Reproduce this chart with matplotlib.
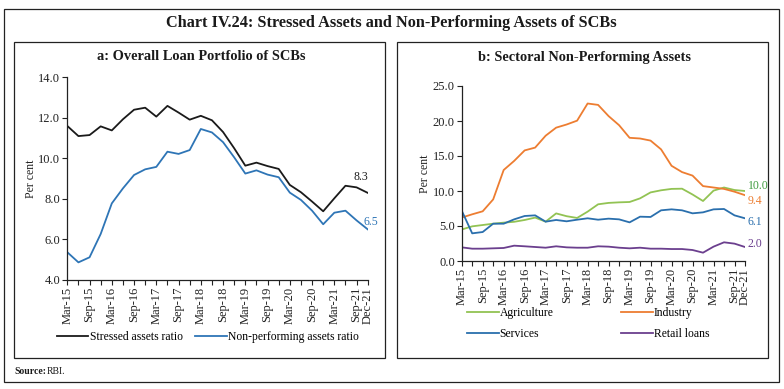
import matplotlib
matplotlib.use("Agg")
import matplotlib.pyplot as plt
from matplotlib.patches import Rectangle

quarters = ["Mar-15", "Jun-15", "Sep-15", "Dec-15", "Mar-16", "Jun-16", "Sep-16", "Dec-16",
            "Mar-17", "Jun-17", "Sep-17", "Dec-17", "Mar-18", "Jun-18", "Sep-18", "Dec-18",
            "Mar-19", "Jun-19", "Sep-19", "Dec-19", "Mar-20", "Jun-20", "Sep-20", "Dec-20",
            "Mar-21", "Jun-21", "Sep-21", "Dec-21"]
shown_labels = ["Mar-15", "Sep-15", "Mar-16", "Sep-16", "Mar-17", "Sep-17", "Mar-18", "Sep-18",
                "Mar-19", "Sep-19", "Mar-20", "Sep-20", "Mar-21", "Sep-21", "Dec-21"]

stressed = [11.6, 11.1, 11.15, 11.58, 11.38, 11.93, 12.4, 12.5, 12.06, 12.59, 12.26, 11.91,
            12.1, 11.88, 11.3, 10.5, 9.64, 9.79, 9.62, 9.48, 8.69, 8.33, 7.87, 7.39,
            8.03, 8.65, 8.57, 8.3]
npa = [5.37, 4.87, 5.12, 6.27, 7.78, 8.52, 9.18, 9.46, 9.58, 10.33, 10.22, 10.41,
       11.45, 11.28, 10.8, 10.05, 9.25, 9.41, 9.2, 9.07, 8.31, 7.95, 7.42, 6.75,
       7.32, 7.42, 6.94, 6.5]

agriculture = [4.5, 4.95, 5.14, 5.33, 5.48, 5.6, 5.86, 6.2, 5.62, 6.8, 6.4, 6.15,
               7.05, 8.1, 8.3, 8.38, 8.43, 8.95, 9.8, 10.1, 10.3, 10.33, 9.5, 8.57,
               10.05, 10.5, 10.14, 10.0]
industry = [6.2, 6.67, 7.1, 8.8, 13.0, 14.3, 15.8, 16.2, 17.9, 19.05, 19.5, 20.05,
            22.5, 22.3, 20.7, 19.4, 17.6, 17.5, 17.2, 15.95, 13.6, 12.7, 12.2, 10.7,
            10.5, 10.3, 9.9, 9.4]
services = [7.2, 3.95, 4.14, 5.33, 5.33, 5.95, 6.43, 6.52, 5.62, 5.86, 5.67, 5.9,
            6.1, 5.9, 6.05, 5.95, 5.52, 6.33, 6.29, 7.24, 7.38, 7.24, 6.81, 6.95,
            7.38, 7.43, 6.52, 6.1]
retail = [1.95, 1.76, 1.76, 1.81, 1.86, 2.19, 2.1, 2.0, 1.9, 2.1, 1.95, 1.9,
          1.9, 2.1, 2.05, 1.9, 1.81, 1.9, 1.76, 1.76, 1.71, 1.71, 1.57, 1.19,
          2.05, 2.67, 2.48, 2.0]

W, H = 784, 389
plt.rcParams['font.family'] = ['Liberation Serif', 'DejaVu Serif']
fig = plt.figure(figsize=(W / 100, H / 100), dpi=100)

def rect(x0, y0, x1, y1):
    return [x0 / W, 1 - y1 / H, (x1 - x0) / W, (y1 - y0) / H]

def frame(x0, y0, x1, y1, lw=0.9):
    fig.patches.append(Rectangle((x0 / W, 1 - y1 / H), (x1 - x0) / W, (y1 - y0) / H,
                                 transform=fig.transFigure, fill=False,
                                 edgecolor='#222222', linewidth=lw))

frame(4, 9, 779, 382)
frame(14, 42, 385, 358)
frame(397, 42, 768, 358)

fig.text(391 / W, 1 - 23 / H, "Chart IV.24: Stressed Assets and Non-Performing Assets of SCBs",
         ha='center', va='center', fontsize=11.7, fontweight='bold', color='#1a1a1a')
fig.text(201 / W, 1 - 57 / H, "a: Overall Loan Portfolio of SCBs",
         ha='center', va='center', fontsize=10.4, fontweight='bold', color='#1a1a1a')
fig.text(584 / W, 1 - 57 / H, "b: Sectoral Non-Performing Assets",
         ha='center', va='center', fontsize=10.4, fontweight='bold', color='#1a1a1a')
fig.text(14 / W, 1 - 372 / H, "Source:", ha='left', va='center', fontsize=7,
         fontweight='bold', color='#1a1a1a')
fig.text(47 / W, 1 - 372 / H, "RBI.", ha='left', va='center', fontsize=7, color='#1a1a1a')

x = list(range(len(quarters)))
labels = [q if q in shown_labels else "" for q in quarters]

def style(ax, ylim, yticks):
    ax.set_xlim(0, len(quarters) - 1)
    ax.set_ylim(*ylim)
    ax.set_yticks(yticks)
    ax.set_yticklabels([f"{v:.1f}" for v in yticks])
    ax.set_xticks(x)
    ax.set_xticklabels(labels, rotation=90)
    for s in ['top', 'right']:
        ax.spines[s].set_visible(False)
    for s in ['left', 'bottom']:
        ax.spines[s].set_linewidth(0.9)
        ax.spines[s].set_color('#222222')
    ax.tick_params(axis='both', direction='out', length=3.5, width=0.8, colors='#222222',
                   labelsize=9, labelcolor='#222222', pad=1.5)
    ax.set_ylabel("Per cent", fontsize=8.5, color='#222222', labelpad=1)
    ax.set_facecolor('none')

# Left panel
ax1 = fig.add_axes(rect(67.3, 77.3, 367.7, 280))
c_black = '#1a1a1a'
c_blue = '#2e75b6'
l1, = ax1.plot(x, stressed, color=c_black, lw=1.3)
l2, = ax1.plot(x, npa, color=c_blue, lw=1.3)
style(ax1, (4, 14), [4, 6, 8, 10, 12, 14])
ax1.annotate(f"{stressed[-1]:.1f}", (x[-1], stressed[-1]), xytext=(-5, 7),
             textcoords='offset points', ha='center', va='bottom', fontsize=8.5, color=c_black)
ax1.annotate(f"{npa[-1]:.1f}", (x[-1], npa[-1]), xytext=(-3, 1),
             textcoords='offset points', ha='left', va='bottom', fontsize=8.5, color=c_blue)
ax1.legend([l1, l2], ["Stressed assets ratio", "Non-performing assets ratio"],
           loc='center', bbox_to_anchor=(208 / W, 1 - 337 / H), bbox_transform=fig.transFigure,
           ncol=2, frameon=False, fontsize=8.4, handlelength=2.7, handletextpad=0.1,
           columnspacing=1.1, borderaxespad=0)

# Right panel
ax2 = fig.add_axes(rect(461.7, 86, 745, 261))
c_agri = '#92c353'
c_ind = '#ed7d31'
c_serv = '#2a6fad'
c_ret = '#6b3f8e'
la, = ax2.plot(x, agriculture, color=c_agri, lw=1.3)
li, = ax2.plot(x, industry, color=c_ind, lw=1.3)
ls, = ax2.plot(x, services, color=c_serv, lw=1.3)
lr, = ax2.plot(x, retail, color=c_ret, lw=1.3)
style(ax2, (0, 25), [0, 5, 10, 15, 20, 25])
end_labels = [(agriculture[-1], '#3f9b3f', 3.6), (industry[-1], c_ind, -4.3),
              (services[-1], c_serv, -2.7), (retail[-1], c_ret, 2)]
for v, c, dy in end_labels:
    ax2.annotate(f"{v:.1f}", (x[-1], v), xytext=(2, dy), textcoords='offset points',
                 ha='left', va='center', fontsize=8.5, color=c)
ax2.legend([la, ls, li, lr], ["Agriculture", "Services", "Industry", "Retail loans"],
           loc='upper left', bbox_to_anchor=(467 / W, 1 - 307 / H), bbox_transform=fig.transFigure,
           ncol=2, frameon=False, fontsize=8.4, handlelength=2.7, handletextpad=0.1,
           columnspacing=5.8, labelspacing=0.75, borderaxespad=0, borderpad=0)

fig.savefig("out.png", dpi=100)
